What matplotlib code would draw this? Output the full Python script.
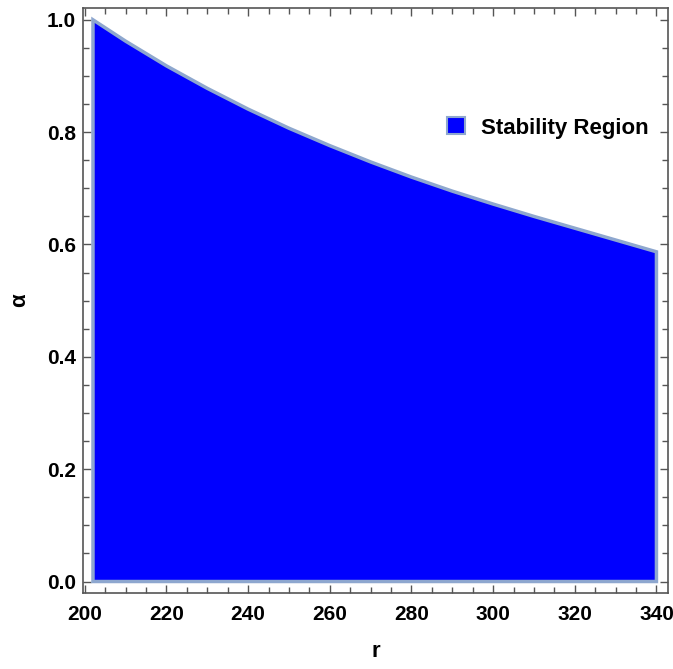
import matplotlib.pyplot as plt
import numpy as np
from matplotlib.patches import Patch
from matplotlib.ticker import MultipleLocator

# данные границы области устойчивости
r_vals = [202, 210, 220, 230, 240, 250, 260, 270, 280, 290, 300, 310, 320, 330, 340]
alpha_vals = [1.0, 0.962, 0.918, 0.878, 0.841, 0.807, 0.776, 0.747, 0.720, 0.695,
              0.672, 0.650, 0.629, 0.608, 0.587]
legend_label = "Stability Region"

plt.rcParams['font.family'] = ['Liberation Sans', 'DejaVu Sans']
plt.rcParams['font.weight'] = 'bold'

fill_color = '#0000ff'
edge_color = '#8ea7cf'
frame_color = '#555555'

fig = plt.figure(figsize=(6.73, 6.69), dpi=100)
ax = fig.add_axes([0.123, 0.114, 0.870, 0.874])

r = np.array(r_vals)
a = np.array(alpha_vals)
# полигон области: от нуля до кривой
px = np.concatenate([[r[0]], r, [r[-1]]])
py = np.concatenate([[0.0], a, [0.0]])
ax.fill(px, py, facecolor=fill_color, edgecolor=edge_color, linewidth=2.5,
        joinstyle='miter', zorder=2)

ax.set_xlim(199.5, 342.9)
ax.set_ylim(-0.02, 1.021)

ax.xaxis.set_major_locator(MultipleLocator(20))
ax.xaxis.set_minor_locator(MultipleLocator(5))
ax.yaxis.set_major_locator(MultipleLocator(0.2))
ax.yaxis.set_minor_locator(MultipleLocator(0.05))
ax.yaxis.set_major_formatter(plt.FuncFormatter(lambda v, p: f"{v:.1f}"))

ax.tick_params(which='both', direction='in', top=True, right=True,
               color=frame_color, labelsize=15)
ax.tick_params(axis='x', which='major', pad=9)
ax.tick_params(axis='y', which='major', pad=5)
ax.tick_params(which='major', length=6, width=1)
ax.tick_params(which='minor', length=4, width=1)
for s in ax.spines.values():
    s.set_color(frame_color)
    s.set_linewidth(1.2)

ax.set_xlabel("r", fontsize=16, fontweight='bold', labelpad=12)
ax.set_ylabel("α", fontsize=16, fontweight='bold', labelpad=12)

handle = Patch(facecolor=fill_color, edgecolor=edge_color, linewidth=1.5)
ax.legend([handle], [legend_label], loc='center right',
          bbox_to_anchor=(1.0, 0.795), frameon=False, fontsize=16,
          handlelength=0.8, handleheight=0.8, handletextpad=0.7)

fig.savefig("out.png", dpi=100)
